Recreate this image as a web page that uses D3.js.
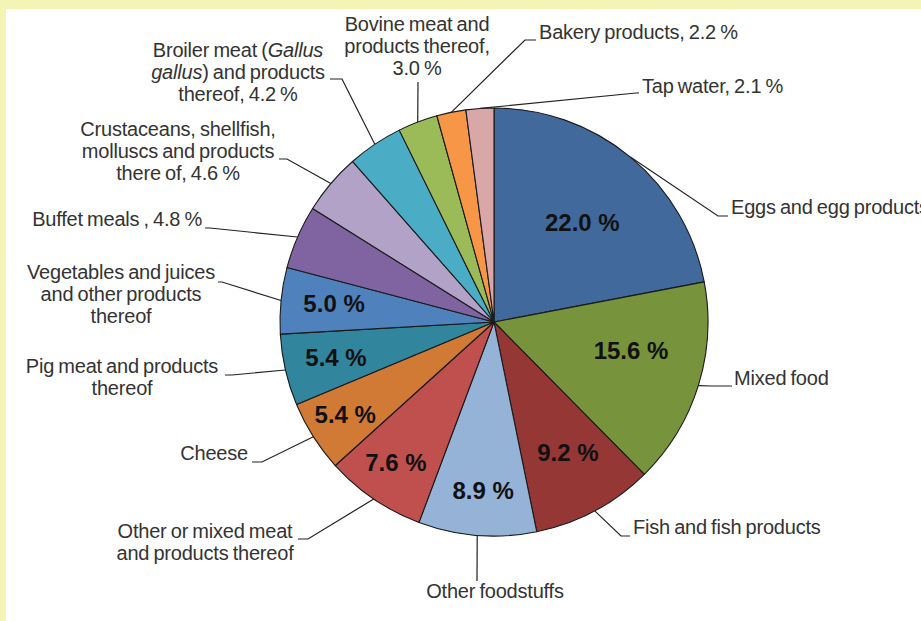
<!DOCTYPE html>
<html>
<head>
<meta charset="utf-8">
<script src="https://cdn.jsdelivr.net/npm/d3@7"></script>
<style>
  html, body { margin: 0; padding: 0; background: #f4f4b4; }
  svg { display: block; }
  .lbl { font-family: "Liberation Sans", Arial, sans-serif; font-size: 20px; fill: #333; letter-spacing: -0.2px; word-spacing: -1.2px; }
  .pct { font-family: "Liberation Sans", Arial, sans-serif; font-size: 24px; font-weight: bold; fill: #111; }
  .leader { fill: none; stroke: #222; stroke-width: 1.2px; }
</style>
</head>
<body>
<svg id="chart" width="921" height="621"></svg>
<script>
// Food vehicles, share of outbreaks (%), clockwise from 12 o'clock
const categories = [
  "Eggs and egg products", "Mixed food", "Fish and fish products", "Other foodstuffs",
  "Other or mixed meat and products thereof", "Cheese", "Pig meat and products thereof",
  "Vegetables and juices and other products thereof", "Buffet meals",
  "Crustaceans, shellfish, molluscs and products there of",
  "Broiler meat (Gallus gallus) and products thereof", "Bovine meat and products thereof",
  "Bakery products", "Tap water"
];
const shares = [22.0, 15.6, 9.2, 8.9, 7.6, 5.4, 5.4, 5.0, 4.8, 4.6, 4.2, 3.0, 2.2, 2.1];
// label text lines, *...* marks italic
const labelLines = [
  ["Eggs and egg products"],
  ["Mixed food"],
  ["Fish and fish products"],
  ["Other foodstuffs"],
  ["Other or mixed meat", "and products thereof"],
  ["Cheese"],
  ["Pig meat and products", "thereof"],
  ["Vegetables and juices", "and other products", "thereof"],
  ["Buffet meals , 4.8 %"],
  ["Crustaceans, shellfish,", "molluscs and products", "there of, 4.6 %"],
  ["Broiler meat (*Gallus*", "*gallus*) and products", "thereof, 4.2 %"],
  ["Bovine meat and", "products thereof,", "3.0 %"],
  ["Bakery products, 2.2 %"],
  ["Tap water, 2.1 %"]
];
const showInside = [true, true, true, true, true, true, true, true, false, false, false, false, false, false];
const colors = ["#41699c", "#77933c", "#953735", "#95b3d7", "#c0504d", "#d07a35", "#31859c",
                "#4f81bd", "#8064a2", "#b3a2c7", "#4bacc6", "#9bbb59", "#f79646", "#d9a7a7"];

// label placement (layout only); inR / inA = radius and angle shift (deg) of the inside label
const layout = [
  { elbow: [718, 216], end: 728, tx: 731, ty: 214, anchor: "start", inR: 133, inA: 2.0 },
  { elbow: [712, 386], end: 732, tx: 734, ty: 385, anchor: "start", inR: 140, inA: -5.4 },
  { elbow: [621, 536], end: 630, tx: 633, ty: 534, anchor: "start", inR: 150, inA: -1.4 },
  { elbow: [477, 581], end: 477, tx: 495, ty: 598, anchor: "middle", inR: 169, inA: -0.8 },
  { elbow: [308, 539], end: 298, tx: 205, ty: 538, anchor: "middle", inR: 171, inA: 0.8 },
  { elbow: [262, 462], end: 252, tx: 248, ty: 460, anchor: "end", inR: 175, inA: 0.6 },
  { elbow: [232, 375], end: 225, tx: 122, ty: 373, anchor: "middle", inR: 162, inA: 0.2 },
  { elbow: [222, 282], end: 218, tx: 121, ty: 279, anchor: "middle", inR: 161, inA: 0.8 },
  { elbow: [210, 228], end: 205, tx: 202, ty: 226, anchor: "end" },
  { elbow: [287, 159], end: 279, tx: 178, ty: 136, anchor: "middle" },
  { elbow: [342, 79], end: 330, tx: 238, ty: 57, anchor: "middle" },
  { elbow: [418, 82], end: 418, tx: 417, ty: 31, anchor: "middle" },
  { elbow: [525, 40], end: 536, tx: 539, ty: 39, anchor: "start" },
  { elbow: [636, 93], end: 639, tx: 642, ty: 93, anchor: "start" }
];

const svg = d3.select("#chart");
const cx = 494, cy = 322, radius = 214, lineH = 22;

// white plot area inside the pale yellow frame
svg.append("rect").attr("x", 6).attr("y", 9).attr("width", 915).attr("height", 612).attr("fill", "#ffffff");

const pie = d3.pie().sort(null).value(d => d);
const arcs = pie(shares);
const arc = d3.arc().innerRadius(0).outerRadius(radius);

const g = svg.append("g").attr("transform", `translate(${cx},${cy})`);

g.selectAll("path.slice")
  .data(arcs)
  .join("path")
  .attr("class", "slice")
  .attr("d", arc)
  .attr("fill", (d, i) => colors[i])
  .attr("stroke", "#1a1a1a")
  .attr("stroke-width", 1.1)
  .attr("stroke-linejoin", "round");

// percentage labels inside the larger slices
const fmt = d3.format(".1f");
g.selectAll("text.pct")
  .data(arcs.filter((d, i) => showInside[i]))
  .join("text")
  .attr("class", "pct")
  .attr("text-anchor", "middle")
  .attr("dy", "0.36em")
  .attr("transform", d => {
    const L = layout[d.index];
    const a = (d.startAngle + d.endAngle) / 2 + L.inA * Math.PI / 180;
    return `translate(${L.inR * Math.sin(a)},${-L.inR * Math.cos(a)})`;
  })
  .text(d => fmt(d.data) + " %");

// leader lines from the slice edge to the labels
const edgePoint = d => {
  const a = (d.startAngle + d.endAngle) / 2;
  return [cx + radius * Math.sin(a), cy - radius * Math.cos(a)];
};

svg.selectAll("path.leader")
  .data(arcs)
  .join("path")
  .attr("class", "leader")
  .attr("d", d => {
    const L = layout[d.index];
    const p = edgePoint(d);
    return d3.line()([p, L.elbow, [L.end, L.elbow[1]]]);
  });

// outside category labels
const labels = svg.selectAll("text.lbl")
  .data(arcs)
  .join("text")
  .attr("class", "lbl")
  .attr("text-anchor", d => layout[d.index].anchor);

labels.each(function (d) {
  const L = layout[d.index];
  const t = d3.select(this);
  labelLines[d.index].forEach((line, k) => {
    const parts = line.split("*");
    parts.forEach((part, j) => {
      if (!part) return;
      const ts = t.append("tspan").text(part).attr("font-style", j % 2 ? "italic" : null);
      if (j === 0 || (j === 1 && !parts[0])) {
        ts.attr("x", L.tx).attr("y", L.ty + k * lineH);
      }
    });
  });
});
</script>
</body>
</html>
